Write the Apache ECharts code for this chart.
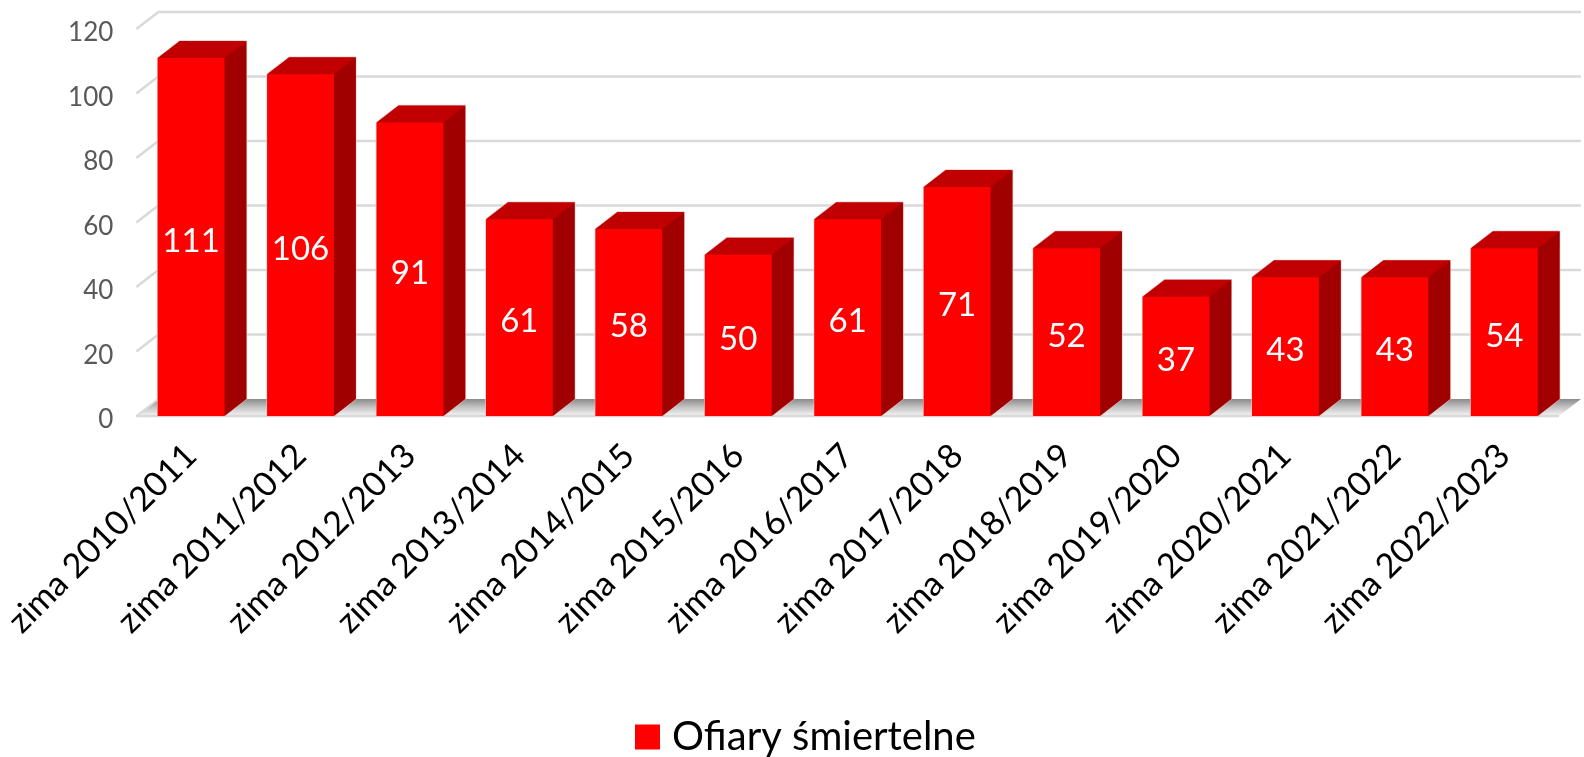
<!DOCTYPE html>
<html><head><meta charset="utf-8">
<style>html,body{margin:0;padding:0;background:#fff}#c{width:1584px;height:757px}</style>
<script src="https://cdn.jsdelivr.net/npm/echarts@6/dist/echarts.min.js"></script>
</head><body><div id="c"></div>
<script>
const categories = ['zima 2010/2011','zima 2011/2012','zima 2012/2013','zima 2013/2014','zima 2014/2015','zima 2015/2016','zima 2016/2017','zima 2017/2018','zima 2018/2019','zima 2019/2020','zima 2020/2021','zima 2021/2022','zima 2022/2023'];
// drawn bar heights, as read against the axis
const barValues = [111,106,91,61,58,50,61,71,52,37,43,43,52];
// printed labels (the last one differs from its drawn height in the source)
const dataLabels = ['111','106','91','61','58','50','61','71','52','37','43','43','54'];
const ticks = [0,20,40,60,80,100,120];
const seriesName = 'Ofiary śmiertelne';

const DX = 22, DY = 17, FONT = 'Lato, Carlito, sans-serif';
const chart = echarts.init(document.getElementById('c'), null, {renderer:'canvas'});

function renderWall(params, api){
  const v = api.value(1), cs = params.coordSys;
  const y = api.coord([0, v])[1];
  const x0 = cs.x, x1 = cs.x + cs.width;
  const children = [];
  if (v === 0) {
    children.push({type:'polygon', shape:{points:[[x0,y],[x0+DX,y-DY],[x1+DX,y-DY],[x1,y]]},
      style:{fill:new echarts.graphic.LinearGradient(0,0,0,1,[{offset:0,color:'#8a8a8a'},{offset:0.45,color:'#c0c0c0'},{offset:1,color:'#f6f6f6'}])}});
    children.push({type:'line', shape:{x1:x0,y1:y,x2:x1,y2:y}, style:{stroke:'#d9d9d9',lineWidth:2.5}});
    children.push({type:'line', shape:{x1:x0,y1:y,x2:x0+DX,y2:y-DY}, style:{stroke:'#d9d9d9',lineWidth:2}});
  } else {
    children.push({type:'polyline', shape:{points:[[x0,y],[x0+DX,y-DY],[x1+DX,y-DY]]},
      style:{stroke:'#d9d9d9',lineWidth:2.5,fill:null}});
  }
  return {type:'group', children};
}

function renderBar(params, api){
  const i = api.value(0), v = api.value(1);
  const top = api.coord([i, v]), base = api.coord([i, 0]);
  const w = api.size([1,0])[0]*0.61;
  const l = top[0]-w/2, r = top[0]+w/2, t = top[1], b = base[1];
  return {type:'group', children:[
    {type:'polygon', shape:{points:[[l,t],[l+DX,t-DY],[r+DX,t-DY],[r+DX,b-DY],[r,b],[l,b]]}, style:{fill:'#c00000',stroke:'rgba(235,195,195,0.8)',lineWidth:1.4}},
    {type:'polygon', shape:{points:[[r,t],[r+DX,t-DY],[r+DX,b-DY],[r,b]]}, style:{fill:'#a00000'}},
    {type:'polygon', shape:{points:[[l,t],[l+DX,t-DY],[r+DX,t-DY],[r,t]]}, style:{fill:'#c00000'}},
    {type:'rect', shape:{x:l,y:t,width:w,height:b-t}, style:{fill:'#ff0000'}},
    {type:'text', x:top[0], y:(t+b)/2+4, style:{text:dataLabels[params.dataIndex],fill:'#fff',font:'33px '+FONT,textAlign:'center',textVerticalAlign:'middle'}}
  ]};
}

chart.setOption({
  animation:false,
  backgroundColor:'#fff',
  legend:{show:true,data:[seriesName],left:630,top:712,itemWidth:25,itemHeight:25,icon:'rect',
    textStyle:{fontSize:40,color:'#000',fontFamily:FONT,padding:[0,0,0,7]}},
  grid:{left:136,top:29,width:1423,height:387,containLabel:false},
  xAxis:{type:'category',data:categories,axisLine:{show:false},axisTick:{show:false},
    axisLabel:{rotate:45,interval:0,fontSize:34,color:'#000',fontFamily:FONT,margin:34,padding:[24,0,0,0]}},
  yAxis:{type:'value',min:0,max:120,interval:20,axisLine:{show:false},axisTick:{show:false},splitLine:{show:false},
    axisLabel:{fontSize:26,color:'#595959',fontFamily:FONT,margin:23,verticalAlign:'top',lineHeight:8}},
  series:[
    {type:'custom',name:'wall',silent:true,z:1,renderItem:renderWall,data:ticks.map(t=>[0,t]),encode:{x:0,y:1}},
    {type:'custom',name:seriesName,z:2,itemStyle:{color:'#ff0000'},renderItem:renderBar,
      data:barValues.map((v,i)=>[i,v]),encode:{x:0,y:1}}
  ]
});
</script></body></html>
